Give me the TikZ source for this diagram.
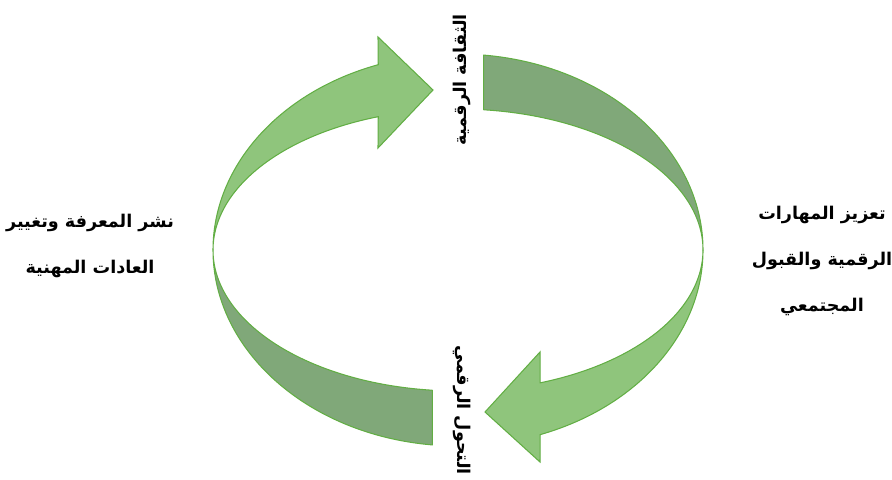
\documentclass[tikz,border=0pt]{standalone}
\usepackage{fontspec}
\newfontfamily\arabicfont[Script=Arabic]{DejaVu Sans}
\TeXXeTstate=1
\usetikzlibrary{calc}
\definecolor{greenlight}{RGB}{143,197,124}
\definecolor{greendark}{RGB}{128,168,121}
\definecolor{greenedge}{RGB}{98,174,68}
\tikzset{
    band_dark/.style={fill=greendark, draw=greenedge, line width=0.6pt, line join=round},
    band_light/.style={fill=greenlight, draw=greenedge, line width=0.6pt},
    label_text/.style={font=\arabicfont\bfseries\fontsize{10}{26}\selectfont, align=center, inner sep=0pt}
}

\begin{document}
\begin{tikzpicture}
            \useasboundingbox (0,0) rectangle (17.84,9.58);
            \coordinate (c) at (9.16,4.58);

            % dark bands
            \draw [band_dark] ($(c)+(84:4.9cm and 3.92cm)$) arc[start angle=84, end angle=0, x radius=4.9cm, y radius=3.92cm] arc[start angle=0, end angle=84, x radius=4.9cm, y radius=2.82cm] -- cycle;
            \draw [band_dark] ($(c)+(180:4.9cm and 3.92cm)$) arc[start angle=180, end angle=264, x radius=4.9cm, y radius=3.92cm] -- ($(c)+(264:4.9cm and 2.82cm)$) arc[start angle=264, end angle=180, x radius=4.9cm, y radius=2.82cm] -- cycle;

            % light arrows
            \draw [band_light] ($(c)+(180:4.9cm and 3.92cm)$) arc[start angle=180, end angle=109, x radius=4.9cm, y radius=3.92cm] -- (7.56,8.84) -- (8.66,7.78) -- (7.56,6.62) -- ($(c)+(109:4.9cm and 2.82cm)$) arc[start angle=109, end angle=180, x radius=4.9cm, y radius=2.82cm] -- cycle;
            \draw [band_light] ($(c)+(0:4.9cm and 3.92cm)$) arc[start angle=360, end angle=289.6, x radius=4.9cm, y radius=3.92cm] -- (10.8,0.34) -- (9.7,1.34) -- (10.8,2.54) -- ($(c)+(289.6:4.9cm and 2.82cm)$) arc[start angle=289.6, end angle=360, x radius=4.9cm, y radius=2.82cm] -- cycle;

            \node (culture) [label_text, rotate=90] at (9.24,7.98) {\beginR الثقافة الرقمية\endR};
            \node (transform) [label_text, rotate=-90] at (9.24,1.38) {\beginR التحول الرقمي\endR};
            \node (knowledge) [label_text] at (1.8,4.66) {\beginR نشر المعرفة وتغيير\endR\\\beginR العادات المهنية\endR};
            \node (skills) [label_text] at (16.44,4.36) {\beginR تعزيز المهارات\endR\\\beginR الرقمية والقبول\endR\\\beginR المجتمعي\endR};
\end{tikzpicture}
\end{document}
